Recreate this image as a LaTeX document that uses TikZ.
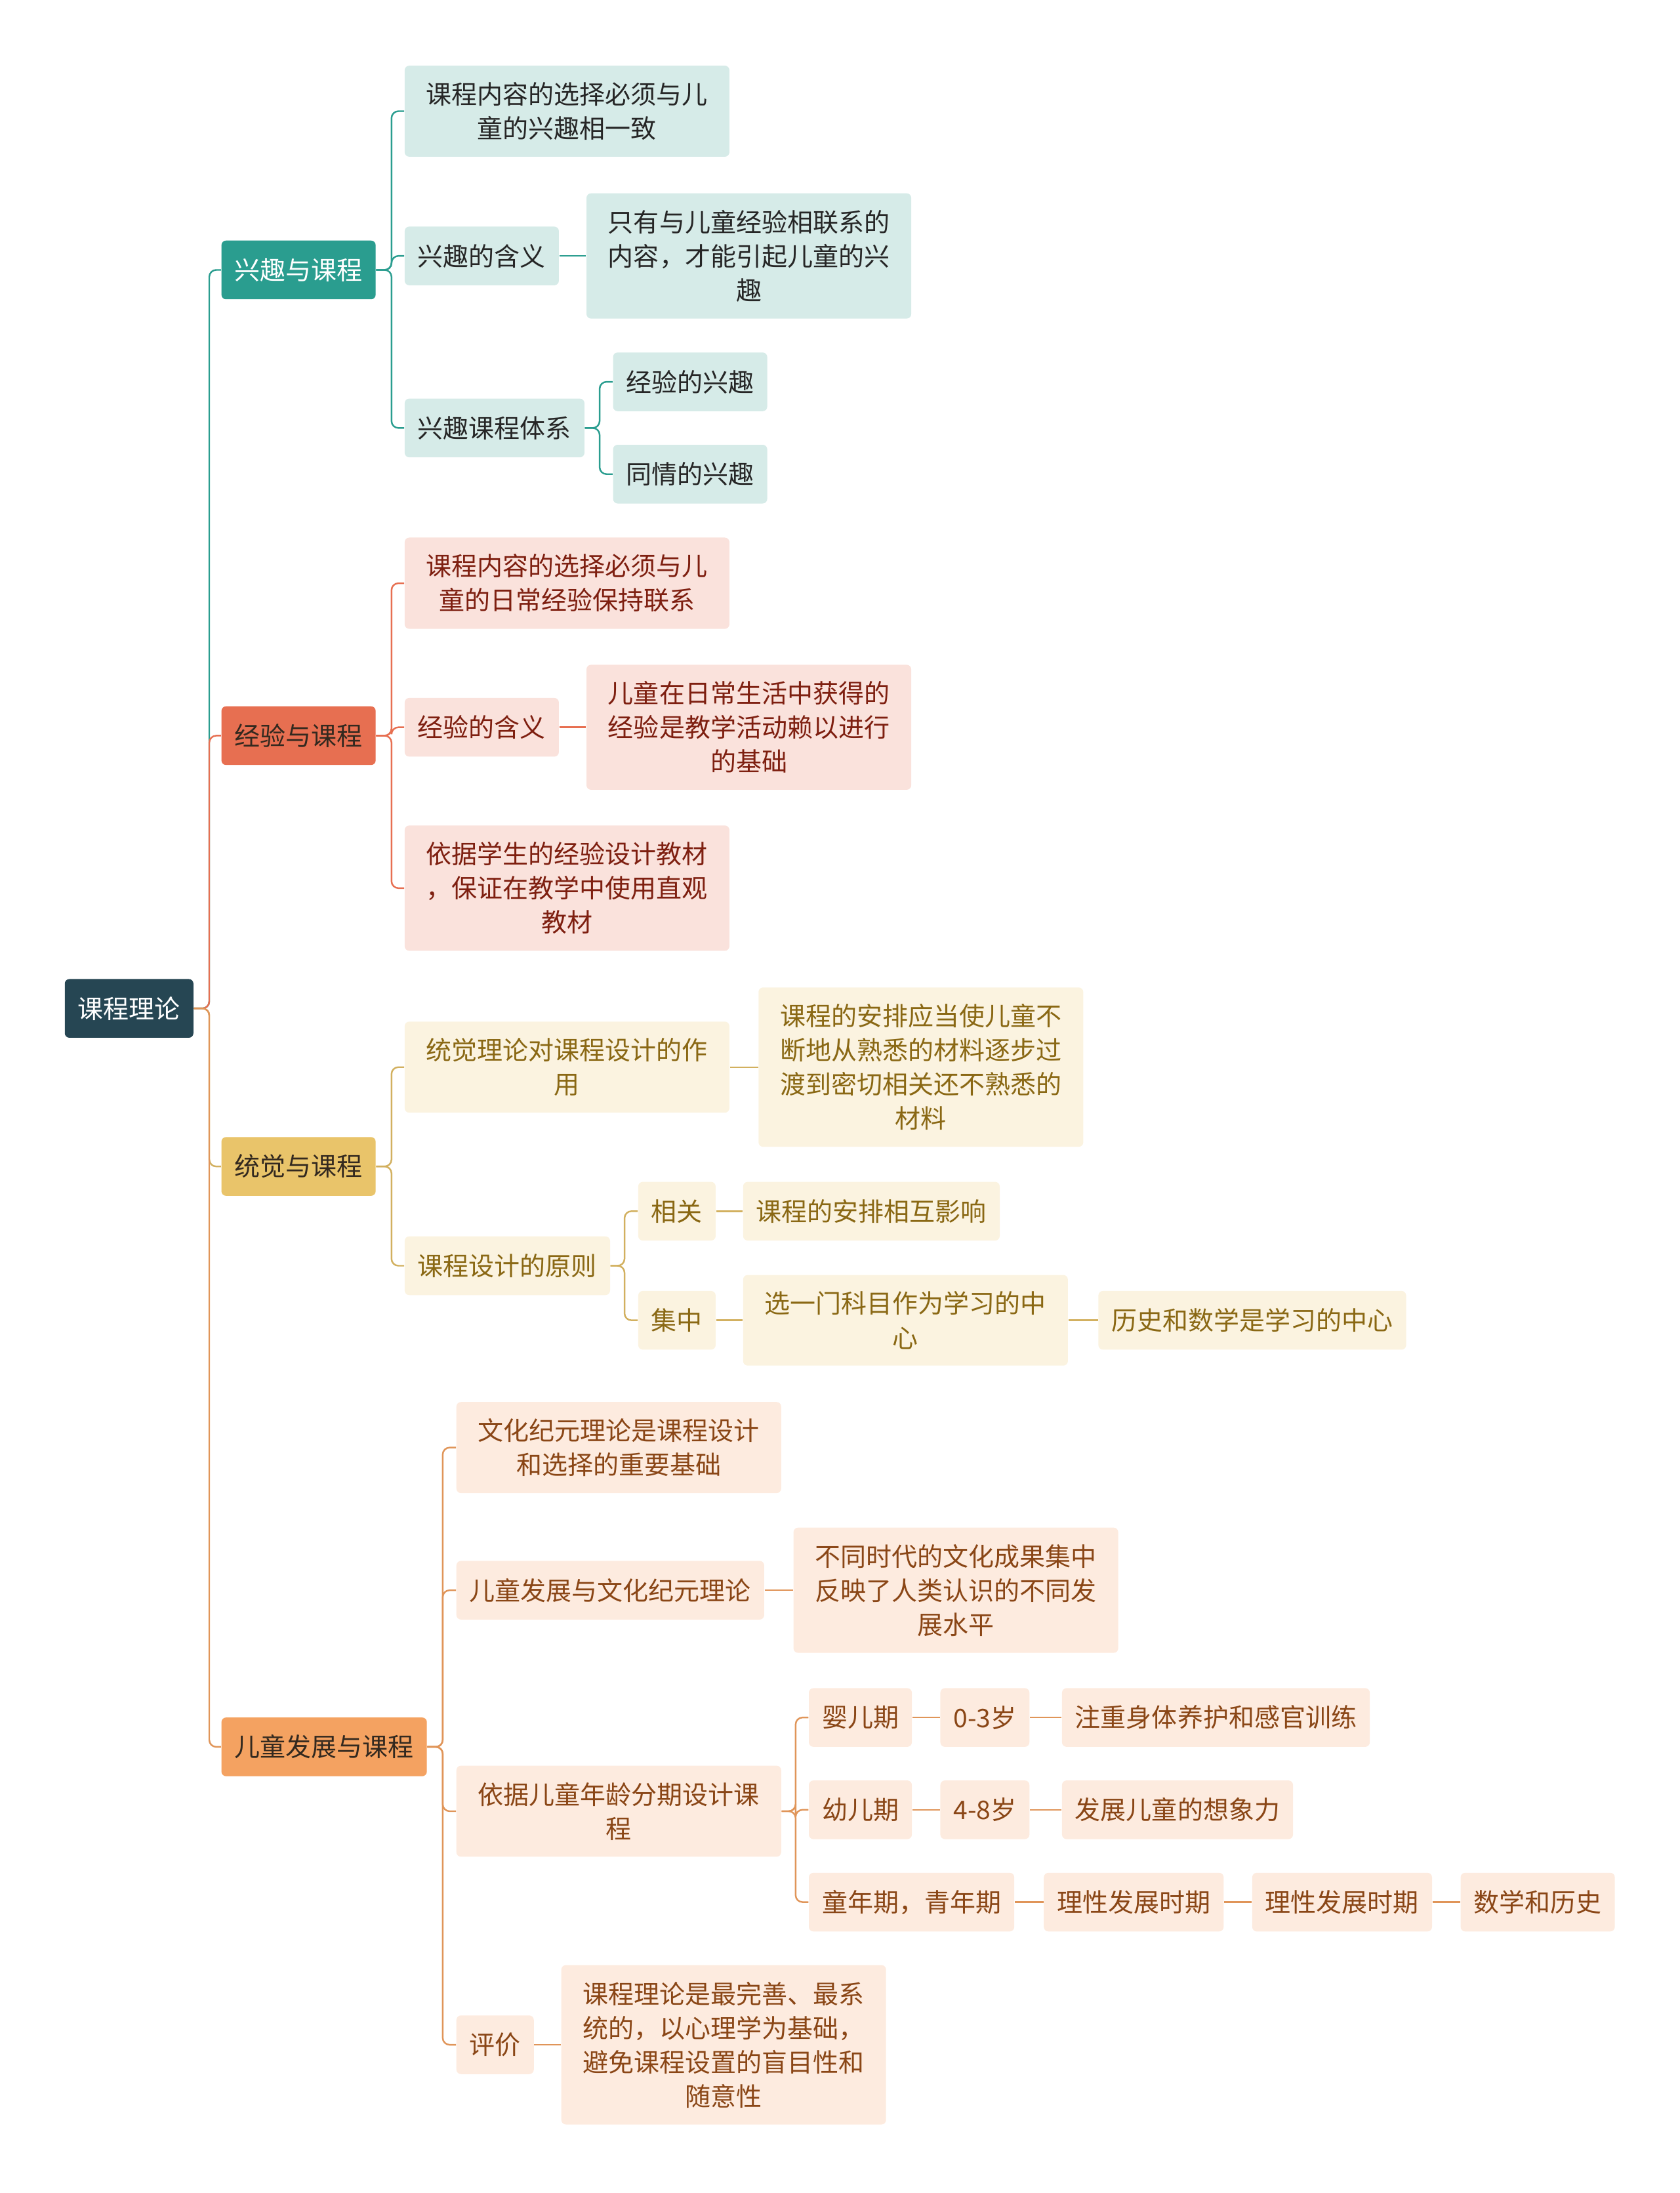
\documentclass[tikz,border=0pt]{standalone}
\usepackage{fontspec}
\setmainfont{Noto Sans CJK SC}
\definecolor{cRoot}{HTML}{264653}
\definecolor{cTeal}{HTML}{2A9D8F}
\definecolor{cRed}{HTML}{E76F51}
\definecolor{cYellow}{HTML}{E9C46A}
\definecolor{cOrange}{HTML}{F4A261}
\definecolor{lTeal}{HTML}{D6EBE8}
\definecolor{lRed}{HTML}{FAE2DC}
\definecolor{lYellow}{HTML}{FBF3E0}
\definecolor{lOrange}{HTML}{FDEBDF}
\definecolor{tDark}{HTML}{33291F}
\definecolor{tRed}{HTML}{7E1F10}
\definecolor{tYellow}{HTML}{8A6814}
\definecolor{tOrange}{HTML}{8A4616}
\begin{document}
\begin{tikzpicture}[x=0.021316cm, y=-0.021316cm,
  box/.style={rounded corners=2pt, inner xsep=0.2cm, inner ysep=7.2pt,
    minimum height=0.895cm, align=center, anchor=west,
    font=\fontsize{11.1}{14.8}\selectfont},
  wide/.style={minimum width=4.95cm},
  rootbox/.style={box, fill=cRoot, text=white},
  tealbox/.style={box, fill=cTeal, text=white},
  redbox/.style={box, fill=cRed, text=tDark},
  yellowbox/.style={box, fill=cYellow, text=tDark},
  orangebox/.style={box, fill=cOrange, text=tDark},
  tealsub/.style={box, fill=lTeal, text=black!85},
  redsub/.style={box, fill=lRed, text=tRed},
  yellowsub/.style={box, fill=lYellow, text=tYellow},
  orangesub/.style={box, fill=lOrange, text=tOrange},
  link/.style={line width=0.7pt, rounded corners=3pt},
  teallink/.style={link, draw=cTeal},
  redlink/.style={link, draw=cRed},
  yellowlink/.style={link, draw=cYellow!90!black},
  orangelink/.style={link, draw=cOrange!92!black}]
\useasboundingbox (0,0) rectangle (1201,1568);
% Root and main branches
\node[rootbox] (root) at (46,721) {课程理论};
\node[tealbox] (intr) at (158,193) {兴趣与课程};
\node[redbox] (exper) at (158,526) {经验与课程};
\node[yellowbox] (apper) at (158,834) {统觉与课程};
\node[orangebox] (child) at (158,1249) {儿童发展与课程};
\draw[teallink] (root.east) -- ++(11,0) |- (intr.west);
\draw[redlink] (root.east) -- ++(11,0) |- (exper.west);
\draw[yellowlink] (root.east) -- ++(11,0) |- (apper.west);
\draw[orangelink] (root.east) -- ++(11,0) |- (child.west);
% Interest branch
\node[tealsub, wide] (intrA) at (289,79.5) {课程内容的选择必须与儿\\童的兴趣相一致};
\node[tealsub] (intrB) at (289,183) {兴趣的含义};
\node[tealsub, wide] (intrB1) at (419,183) {只有与儿童经验相联系的\\内容，才能引起儿童的兴\\趣};
\node[tealsub] (intrC) at (289,306) {兴趣课程体系};
\node[tealsub] (intrC1) at (438,273) {经验的兴趣};
\node[tealsub] (intrC2) at (438,339) {同情的兴趣};
\foreach \n in {intrA,intrB,intrC}
  \draw[teallink] (intr.east) -- ++(11,0) |- (\n.west);
\draw[teallink] (intrB.east) -- (intrB1.west);
\foreach \n in {intrC1,intrC2}
  \draw[teallink] (intrC.east) -- ++(10.5,0) |- (\n.west);
% Experience branch
\node[redsub, wide] (experA) at (289,417) {课程内容的选择必须与儿\\童的日常经验保持联系};
\node[redsub] (experB) at (289,520) {经验的含义};
\node[redsub, wide] (experB1) at (419,520) {儿童在日常生活中获得的\\经验是教学活动赖以进行\\的基础};
\node[redsub, wide] (experC) at (289,635) {依据学生的经验设计教材\\，保证在教学中使用直观\\教材};
\foreach \n in {experA,experB,experC}
  \draw[redlink] (exper.east) -- ++(11,0) |- (\n.west);
\draw[redlink] (experB.east) -- (experB1.west);
% Apperception branch
\node[yellowsub, wide] (apperA) at (289,763) {统觉理论对课程设计的作\\用};
\node[yellowsub, wide] (apperA1) at (542,763) {课程的安排应当使儿童不\\断地从熟悉的材料逐步过\\渡到密切相关还不熟悉的\\材料};
\node[yellowsub] (apperB) at (289,905) {课程设计的原则};
\node[yellowsub] (apperB1) at (456,866) {相关};
\node[yellowsub] (apperB1a) at (531,866) {课程的安排相互影响};
\node[yellowsub] (apperB2) at (456,944) {集中};
\node[yellowsub, wide] (apperB2a) at (531,944) {选一门科目作为学习的中\\心};
\node[yellowsub] (apperB2b) at (785,944) {历史和数学是学习的中心};
\foreach \n in {apperA,apperB}
  \draw[yellowlink] (apper.east) -- ++(11,0) |- (\n.west);
\draw[yellowlink] (apperA.east) -- (apperA1.west);
\foreach \n in {apperB1,apperB2}
  \draw[yellowlink] (apperB.east) -- ++(10,0) |- (\n.west);
\draw[yellowlink] (apperB1.east) -- (apperB1a.west);
\draw[yellowlink] (apperB2.east) -- (apperB2a.west);
\draw[yellowlink] (apperB2a.east) -- (apperB2b.west);
% Child development branch
\node[orangesub, wide] (childA) at (326,1035) {文化纪元理论是课程设计\\和选择的重要基础};
\node[orangesub] (childB) at (326,1137) {儿童发展与文化纪元理论};
\node[orangesub, wide] (childB1) at (567,1137) {不同时代的文化成果集中\\反映了人类认识的不同发\\展水平};
\node[orangesub, wide] (childC) at (326,1295) {依据儿童年龄分期设计课\\程};
\node[orangesub] (childC1) at (578,1228) {婴儿期};
\node[orangesub] (childC1a) at (672,1228) {0-3岁};
\node[orangesub] (childC1b) at (759,1228) {注重身体养护和感官训练};
\node[orangesub] (childC2) at (578,1294) {幼儿期};
\node[orangesub] (childC2a) at (672,1294) {4-8岁};
\node[orangesub] (childC2b) at (759,1294) {发展儿童的想象力};
\node[orangesub] (childC3) at (578,1360) {童年期，青年期};
\node[orangesub] (childC3a) at (746,1360) {理性发展时期};
\node[orangesub] (childC3b) at (895,1360) {理性发展时期};
\node[orangesub] (childC3c) at (1044,1360) {数学和历史};
\node[orangesub] (childD) at (326,1462) {评价};
\node[orangesub, wide] (childD1) at (401,1462) {课程理论是最完善、最系\\统的，以心理学为基础，\\避免课程设置的盲目性和\\随意性};
\foreach \n in {childA,childB,childC,childD}
  \draw[orangelink] (child.east) -- ++(11,0) |- (\n.west);
\draw[orangelink] (childB.east) -- (childB1.west);
\foreach \n in {childC1,childC2,childC3}
  \draw[orangelink] (childC.east) -- ++(10,0) |- (\n.west);
\draw[orangelink] (childC1.east) -- (childC1a.west);
\draw[orangelink] (childC1a.east) -- (childC1b.west);
\draw[orangelink] (childC2.east) -- (childC2a.west);
\draw[orangelink] (childC2a.east) -- (childC2b.west);
\draw[orangelink] (childC3.east) -- (childC3a.west);
\draw[orangelink] (childC3a.east) -- (childC3b.west);
\draw[orangelink] (childC3b.east) -- (childC3c.west);
\draw[orangelink] (childD.east) -- (childD1.west);
\end{tikzpicture}
\end{document}
